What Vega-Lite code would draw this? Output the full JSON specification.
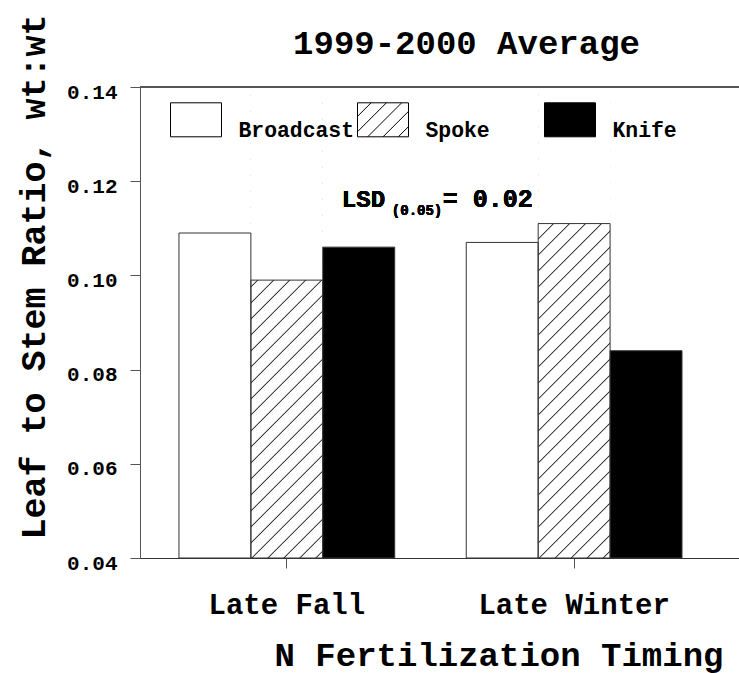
{
  "$schema": "https://vega.github.io/schema/vega-lite/v6.json",
  "autosize": "none",
  "padding": {"left": 140, "top": 87, "right": 0, "bottom": 115},
  "width": 599,
  "height": 471,
  "background": "white",
  "title": {
    "text": "1999-2000 Average",
    "font": "Liberation Mono",
    "fontWeight": "bold",
    "fontSize": 34,
    "color": "black",
    "anchor": "middle",
    "frame": "group",
    "dx": 27,
    "dy": 74,
    "baseline": "alphabetic",
    "offset": 0
  },
  "data": {
    "values": [
      {"Timing": "Late Fall", "Method": "Broadcast", "Ratio": 0.109},
      {"Timing": "Late Fall", "Method": "Spoke", "Ratio": 0.099},
      {"Timing": "Late Fall", "Method": "Knife", "Ratio": 0.106},
      {"Timing": "Late Winter", "Method": "Broadcast", "Ratio": 0.107},
      {"Timing": "Late Winter", "Method": "Spoke", "Ratio": 0.111},
      {"Timing": "Late Winter", "Method": "Knife", "Ratio": 0.084}
    ]
  },
  "layer": [
    {
      "transform": [{"filter": "datum.Method === 'Spoke'"}],
      "mark": {
        "type": "rect",
        "fill": {
          "gradient": "linear", "x1": 0, "y1": 0, "x2": 0.1722, "y2": 1.1266,
          "stops": [
            {"offset": 0, "color": "white"},
            {"offset": 0.0124, "color": "white"}, {"offset": 0.0147, "color": "#222"}, {"offset": 0.0170, "color": "white"},
            {"offset": 0.0419, "color": "white"}, {"offset": 0.0442, "color": "#222"}, {"offset": 0.0465, "color": "white"},
            {"offset": 0.0714, "color": "white"}, {"offset": 0.0737, "color": "#222"}, {"offset": 0.0760, "color": "white"},
            {"offset": 0.1008, "color": "white"}, {"offset": 0.1031, "color": "#222"}, {"offset": 0.1054, "color": "white"},
            {"offset": 0.1303, "color": "white"}, {"offset": 0.1326, "color": "#222"}, {"offset": 0.1349, "color": "white"},
            {"offset": 0.1598, "color": "white"}, {"offset": 0.1621, "color": "#222"}, {"offset": 0.1644, "color": "white"},
            {"offset": 0.1892, "color": "white"}, {"offset": 0.1915, "color": "#222"}, {"offset": 0.1938, "color": "white"},
            {"offset": 0.2187, "color": "white"}, {"offset": 0.2210, "color": "#222"}, {"offset": 0.2233, "color": "white"},
            {"offset": 0.2482, "color": "white"}, {"offset": 0.2505, "color": "#222"}, {"offset": 0.2528, "color": "white"},
            {"offset": 0.2776, "color": "white"}, {"offset": 0.2799, "color": "#222"}, {"offset": 0.2822, "color": "white"},
            {"offset": 0.3071, "color": "white"}, {"offset": 0.3094, "color": "#222"}, {"offset": 0.3117, "color": "white"},
            {"offset": 0.3366, "color": "white"}, {"offset": 0.3389, "color": "#222"}, {"offset": 0.3412, "color": "white"},
            {"offset": 0.3660, "color": "white"}, {"offset": 0.3683, "color": "#222"}, {"offset": 0.3706, "color": "white"},
            {"offset": 0.3955, "color": "white"}, {"offset": 0.3978, "color": "#222"}, {"offset": 0.4001, "color": "white"},
            {"offset": 0.4250, "color": "white"}, {"offset": 0.4273, "color": "#222"}, {"offset": 0.4296, "color": "white"},
            {"offset": 0.4544, "color": "white"}, {"offset": 0.4567, "color": "#222"}, {"offset": 0.4590, "color": "white"},
            {"offset": 0.4839, "color": "white"}, {"offset": 0.4862, "color": "#222"}, {"offset": 0.4885, "color": "white"},
            {"offset": 0.5133, "color": "white"}, {"offset": 0.5156, "color": "#222"}, {"offset": 0.5179, "color": "white"},
            {"offset": 0.5428, "color": "white"}, {"offset": 0.5451, "color": "#222"}, {"offset": 0.5474, "color": "white"},
            {"offset": 0.5723, "color": "white"}, {"offset": 0.5746, "color": "#222"}, {"offset": 0.5769, "color": "white"},
            {"offset": 0.6017, "color": "white"}, {"offset": 0.6040, "color": "#222"}, {"offset": 0.6063, "color": "white"},
            {"offset": 0.6312, "color": "white"}, {"offset": 0.6335, "color": "#222"}, {"offset": 0.6358, "color": "white"},
            {"offset": 0.6607, "color": "white"}, {"offset": 0.6630, "color": "#222"}, {"offset": 0.6653, "color": "white"},
            {"offset": 0.6901, "color": "white"}, {"offset": 0.6924, "color": "#222"}, {"offset": 0.6947, "color": "white"},
            {"offset": 0.7196, "color": "white"}, {"offset": 0.7219, "color": "#222"}, {"offset": 0.7242, "color": "white"},
            {"offset": 0.7491, "color": "white"}, {"offset": 0.7514, "color": "#222"}, {"offset": 0.7537, "color": "white"},
            {"offset": 0.7785, "color": "white"}, {"offset": 0.7808, "color": "#222"}, {"offset": 0.7831, "color": "white"},
            {"offset": 0.8080, "color": "white"}, {"offset": 0.8103, "color": "#222"}, {"offset": 0.8126, "color": "white"},
            {"offset": 0.8375, "color": "white"}, {"offset": 0.8398, "color": "#222"}, {"offset": 0.8421, "color": "white"},
            {"offset": 0.8669, "color": "white"}, {"offset": 0.8692, "color": "#222"}, {"offset": 0.8715, "color": "white"},
            {"offset": 0.8964, "color": "white"}, {"offset": 0.8987, "color": "#222"}, {"offset": 0.9010, "color": "white"},
            {"offset": 0.9259, "color": "white"}, {"offset": 0.9282, "color": "#222"}, {"offset": 0.9305, "color": "white"},
            {"offset": 0.9553, "color": "white"}, {"offset": 0.9576, "color": "#222"}, {"offset": 0.9599, "color": "white"},
            {"offset": 0.9848, "color": "white"}, {"offset": 0.9871, "color": "#222"}, {"offset": 0.9894, "color": "white"},
            {"offset": 1, "color": "white"}
          ]
        }
      },
      "encoding": {
        "x": {"field": "Timing", "type": "nominal"},
        "xOffset": {"field": "Method", "type": "nominal"},
        "y": {"datum": 0.14, "type": "quantitative"},
        "y2": {"datum": 0.04}
      }
    },
    {
      "transform": [{"filter": "datum.Method === 'Spoke'"}],
      "mark": {"type": "rect", "fill": "white"},
      "encoding": {
        "x": {"field": "Timing", "type": "nominal"},
        "xOffset": {"field": "Method", "type": "nominal"},
        "y": {"field": "Ratio", "type": "quantitative"},
        "y2": {"datum": 0.14}
      }
    },
    {
      "mark": {"type": "rect", "stroke": "#333", "strokeWidth": 1},
      "encoding": {
        "x": {
          "field": "Timing",
          "type": "nominal",
          "sort": ["Late Fall", "Late Winter"],
          "scale": {"domain": ["Late Fall", "Late Winter"], "paddingInner": 0.249, "paddingOuter": 0.167, "align": 0.406},
          "axis": {
            "title": "N Fertilization Timing",
            "titleFont": "Liberation Mono",
            "titleFontWeight": "bold",
            "titleFontSize": 34,
            "titleColor": "black",
            "titleX": 358.5,
            "titleY": 107,
            "titleAlign": "center",
            "titleBaseline": "alphabetic",
            "labelFont": "Liberation Mono",
            "labelFontWeight": "bold",
            "labelFontSize": 29,
            "labelColor": "black",
            "labelAngle": 0,
            "labelAlign": "center",
            "labelLimit": 400,
            "labelBaseline": "alphabetic",
            "labelPadding": 45,
            "tickSize": 10,
            "tickColor": "#555",
            "domainColor": "#333",
            "grid": false
          }
        },
        "xOffset": {
          "field": "Method",
          "type": "nominal",
          "scale": {"domain": ["Broadcast", "Spoke", "Knife"], "paddingInner": 0, "paddingOuter": 0}
        },
        "y": {
          "field": "Ratio",
          "type": "quantitative",
          "scale": {"domain": [0.04, 0.14], "zero": false, "nice": false},
          "axis": {
            "title": "Leaf to Stem Ratio, wt:wt",
            "titleFont": "Liberation Mono",
            "titleFontWeight": "bold",
            "titleFontSize": 35,
            "titleColor": "black",
            "titleAngle": 270,
            "titleX": -96,
            "titleY": 189.5,
            "titleAlign": "center",
            "titleBaseline": "alphabetic",
            "values": [0.04, 0.06, 0.08, 0.10, 0.12, 0.14],
            "format": ".2f",
            "labelFont": "Liberation Mono",
            "labelFontWeight": "bold",
            "labelFontSize": 21,
            "labelColor": "black",
            "labelOffset": 5,
            "labelPadding": 13,
            "tickSize": 10,
            "tickColor": "#555",
            "domainColor": "#555",
            "grid": false
          }
        },
        "y2": {"datum": 0.04},
        "fill": {
          "field": "Method",
          "type": "nominal",
          "scale": {"domain": ["Broadcast", "Spoke", "Knife"], "range": ["white", "rgba(255,255,255,0)", "black"]},
          "legend": {
            "title": null,
            "orient": "none",
            "legendX": 30,
            "legendY": 6.5,
            "padding": 0,
            "direction": "horizontal",
            "columns": 3,
            "gridAlign": "all",
            "columnPadding": 0,
            "symbolType": "M-1,-0.6667H1V0.6667H-1Z",
            "symbolSize": 2601,
            "symbolStrokeColor": "black",
            "symbolStrokeWidth": 1,
            "symbolOpacity": 1,
            "labelFont": "Liberation Mono",
            "labelFontWeight": "bold",
            "labelFontSize": 21.4,
            "labelColor": "black",
            "labelOffset": 16.5,
            "labelBaseline": "top",
            "encode": {
              "symbols": {
                "update": {
                  "shape": [
                    {"test": "datum.value === 'Spoke'", "value": "M-1,-0.6667H1V0.6667H-1Z M-1,-0.1333L-0.4667,-0.6667 M-1,0.4667L0.1333,-0.6667 M-0.6,0.6667L0.7333,-0.6667 M0,0.6667L1,-0.3333 M0.6,0.6667L1,0.2667"},
                    {"value": "M-1,-0.6667H1V0.6667H-1Z"}
                  ],
                  "fill": [
                    {"test": "datum.value === 'Knife'", "value": "black"},
                    {"value": "white"}
                  ],
                  "stroke": {"value": "black"},
                  "strokeWidth": {"value": 1},
                  "opacity": {"value": 1}
                }
              }
            }
          }
        }
      }
    },
    {
      "mark": {"type": "rule", "color": "#555", "strokeWidth": 1},
      "encoding": {"y": {"datum": 0.14, "type": "quantitative"}}
    },
    {
      "mark": {"type": "text", "font": "Liberation Mono", "fontWeight": "bold", "fontSize": 24, "align": "left", "baseline": "alphabetic", "dx": 55, "color": "black"},
      "encoding": {
        "x": {"datum": "Late Fall", "type": "nominal"},
        "y": {"datum": 0.1145, "type": "quantitative"},
        "text": {"value": "LSD"}
      }
    },
    {
      "mark": {"type": "text", "font": "Liberation Mono", "fontWeight": "bold", "fontSize": 14, "align": "left", "baseline": "alphabetic", "dx": 105, "dy": 8, "color": "black"},
      "encoding": {
        "x": {"datum": "Late Fall", "type": "nominal"},
        "y": {"datum": 0.1145, "type": "quantitative"},
        "text": {"value": "(0.05)"}
      }
    },
    {
      "mark": {"type": "text", "font": "Liberation Mono", "fontWeight": "bold", "fontSize": 25, "align": "left", "baseline": "alphabetic", "dx": 156, "color": "black"},
      "encoding": {
        "x": {"datum": "Late Fall", "type": "nominal"},
        "y": {"datum": 0.1145, "type": "quantitative"},
        "text": {"value": "= 0.02"}
      }
    }
  ],
  "config": {
    "view": {"stroke": null},
    "axis": {"grid": false}
  }
}
